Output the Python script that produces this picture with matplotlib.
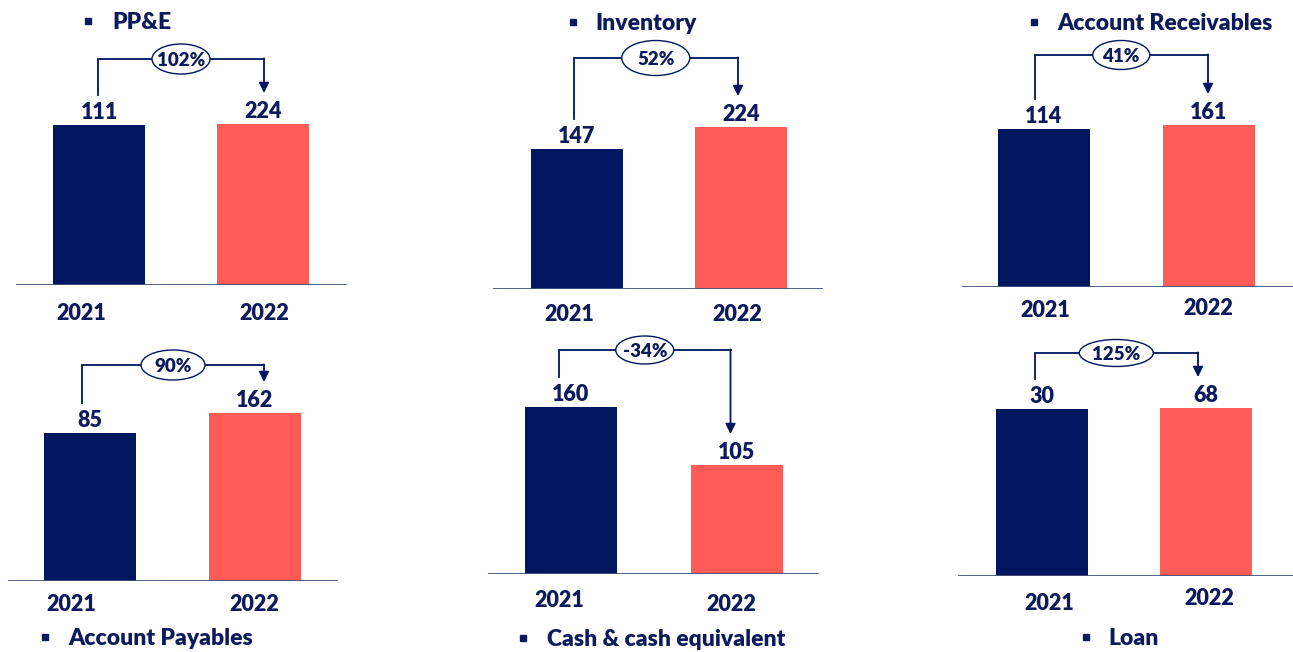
#!/usr/bin/env python3

import matplotlib
matplotlib.use("Agg")
import matplotlib.pyplot as plt
from matplotlib.patches import Ellipse
from matplotlib.lines import Line2D

# data
titles = ["PP&E", "Inventory", "Account Receivables",
          "Account Payables", "Cash & cash equivalent", "Loan"]
years = ["2021", "2022"]
values_2021 = [111, 147, 114, 85, 160, 30]
values_2022 = [224, 224, 161, 162, 105, 68]
changes = ["102%", "52%", "41%", "90%", "-34%", "125%"]
# bars in the source are not drawn to one scale: displayed heights (px)
shown_2021 = [160, 140, 158, 148, 167, 167]
shown_2022 = [161, 162, 162, 168, 109, 168]

NAVY = "#00165E"
CORAL = "#FF5B57"
TEXT = "#0D1A5C"
AXIS = "#46557F"
FONT = ["Lato", "DejaVu Sans"]
WEIGHT = "heavy"

W, H = 1293, 652

# layout in pixels: axis line left/right, baseline, centre of bar 1, centre of bar 2
panels = [
    (16, 347, 285, 99, 263),
    (493, 823, 289, 576.5, 741),
    (962, 1293, 287, 1043.5, 1209),
    (8, 338, 581, 90, 255),
    (488, 819, 574, 571, 736.5),
    (958, 1293, 576, 1041.5, 1206),
]
# title: bullet x, text x, baseline y
title_pos = [(88, 112, 29), (573, 595, 30), (1034, 1057, 30),
             (45, 68, 645), (523, 547, 646), (1086, 1108, 645)]
# year label offsets (dx px, baseline below axis px)
year_off = [((-18, 35), (1, 35)), ((-7, 32), (-4, 32)), ((1.5, 30), (-1, 28)),
            ((-19, 30), (-1, 30)), ((-12, 33), (-5, 37)), ((8, 34), (3, 29))]
# bracket: left x offset, right x offset, gap above taller bar, ellipse w, h
brackets = [(-1, 1, 65, 58, 30), (-3, -3, 69, 68, 35), (-9, -1, 70, 57, 29),
            (-8, 9, 48, 64, 30), (-12, -6, 57, 58, 28), (-7, -8, 55, 74, 27)]

fig = plt.figure(figsize=(W / 100, H / 100), dpi=100)

for k in range(6):
    left, right, base, c1, c2 = panels[k]
    top_px = 260
    S = c2 - c1
    ax = fig.add_axes([left / W, 1 - base / H, (right - left) / W, top_px / H])
    ax.set_xlim((left - c1) / S, (right - c1) / S)
    ax.set_ylim(0, top_px)
    ax.axis("off")
    ax.axhline(0, color=AXIS, lw=1.3)

    h = [shown_2021[k], shown_2022[k]]
    vals = [values_2021[k], values_2022[k]]
    ax.bar([0, 1], h, width=92 / S, color=[NAVY, CORAL])

    for i in range(2):
        ax.text(i, h[i] + 6, str(vals[i]), ha="center", va="baseline",
                fontsize=15.5, fontweight=WEIGHT, color=TEXT, family=FONT)
        dx, dy = year_off[k][i]
        ax.text(i + dx / S, -dy, years[i], ha="center", va="baseline",
                fontsize=15.5, fontweight=WEIGHT, color=TEXT, family=FONT,
                clip_on=False)

    dl, dr, gap, ew, eh = brackets[k]
    xl = dl / S
    xr = 1 + dr / S
    ytop = max(h) + gap
    ax.plot([xl, xl, xr], [h[0] + 30, ytop, ytop], color=NAVY, lw=1.3,
            clip_on=False, solid_joinstyle="miter")
    ax.annotate("", xy=(xr, h[1] + 31), xytext=(xr, ytop + 0.6),
                arrowprops=dict(arrowstyle="-|>", color=NAVY, lw=1.3,
                                mutation_scale=15, shrinkA=0, shrinkB=0))
    xm = (xl + xr) / 2
    ax.add_patch(Ellipse((xm, ytop), ew / S, eh, fc="white", ec=NAVY,
                         lw=1.0, zorder=3, clip_on=False))
    ax.text(xm, ytop, changes[k], ha="center", va="center_baseline",
            fontsize=13.5, fontweight=WEIGHT, color=TEXT, family=FONT, zorder=4)

    bx, tx, ty = title_pos[k]
    fig.add_artist(Line2D([bx / W], [1 - (ty - 8) / H], marker="s", ms=5,
                          color=TEXT, transform=fig.transFigure))
    fig.text(tx / W, 1 - ty / H, titles[k], ha="left", va="baseline",
             fontsize=16.5, fontweight=WEIGHT, color=TEXT, family=FONT)

fig.savefig("out.png", dpi=100)
